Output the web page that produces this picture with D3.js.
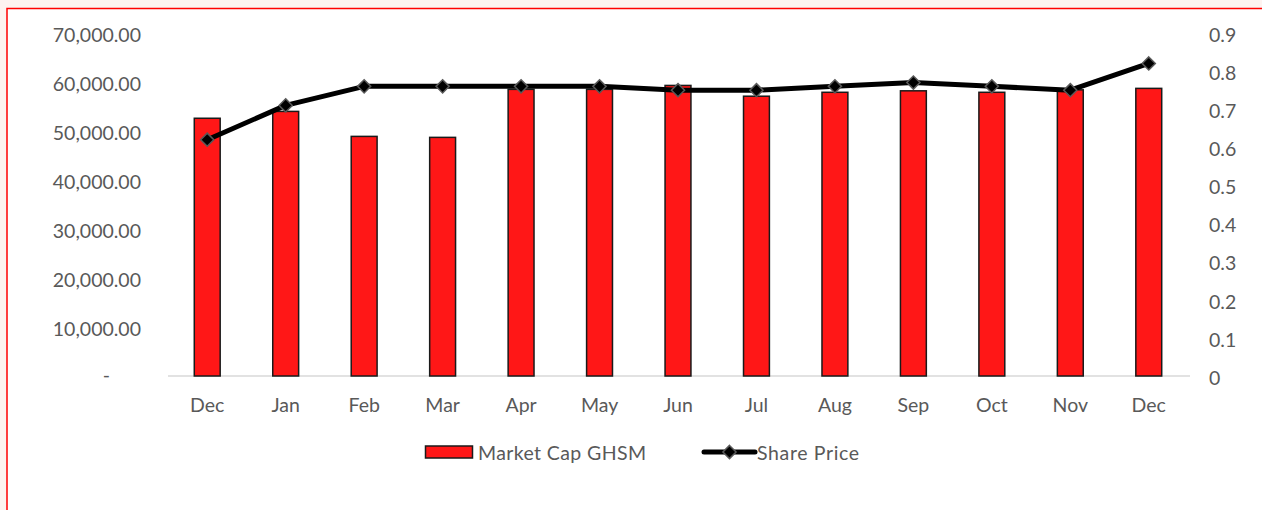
<!DOCTYPE html>
<html>
<head>
<meta charset="utf-8">
<script src="https://cdn.jsdelivr.net/npm/d3@7"></script>
<style>
  html, body { margin: 0; padding: 0; background: #fdf3f0; }
  svg { display: block; }
  text { font-family: Lato, "Open Sans", sans-serif; fill: #595959; }
</style>
</head>
<body>
<svg id="chart" width="1262" height="510"></svg>
<script>
// chart values
const months = ["Dec", "Jan", "Feb", "Mar", "Apr", "May", "Jun", "Jul", "Aug", "Sep", "Oct", "Nov", "Dec"];
const marketCap = [52600, 54000, 48900, 48700, 58500, 58500, 59300, 57100, 57900, 58200, 57900, 58400, 58700];
const sharePrice = [0.62, 0.71, 0.76, 0.76, 0.76, 0.76, 0.75, 0.75, 0.76, 0.77, 0.76, 0.75, 0.82];
const leftTicks = [0, 10000, 20000, 30000, 40000, 50000, 60000, 70000];
const rightTicks = [0, 0.1, 0.2, 0.3, 0.4, 0.5, 0.6, 0.7, 0.8, 0.9];
const seriesNames = ["Market Cap GHSM", "Share Price"];

const svg = d3.select("#chart");
const plot = {left: 168, right: 1188, top: 33, bottom: 376};
const fontSize = 19.5;

// white chart area with red frame
svg.append("rect")
    .attr("x", 7).attr("y", 8.5)
    .attr("width", 1262).attr("height", 510)
    .attr("fill", "#ffffff")
    .attr("stroke", "#ff0000")
    .attr("stroke-width", 1.5);

const x = d3.scaleBand()
    .domain(d3.range(months.length))
    .range([plot.left, plot.right])
    .paddingInner(0.67)
    .paddingOuter(0.335);

const xc = (i) => plot.left + (plot.right - plot.left) / months.length * (i + 0.5);

const yLeft = d3.scaleLinear().domain([0, 70000]).range([plot.bottom, plot.top]);
const yRight = d3.scaleLinear().domain([0, 0.9]).range([plot.bottom, plot.top]);

// left axis
const fmtLeft = (d) => d === 0 ? "-" : d3.format(",.2f")(d);
const leftAxis = svg.append("g")
    .attr("transform", `translate(${plot.left},2)`)
    .call(d3.axisLeft(yLeft).tickValues(leftTicks).tickFormat(fmtLeft).tickSize(0).tickPadding(27));
leftAxis.select(".domain").remove();
leftAxis.selectAll("text")
    .attr("font-size", fontSize)
    .attr("font-family", null)
    .attr("fill", null)
    .attr("dx", (d) => d === 0 ? -31 : 0)
    .attr("dy", (d) => d === 0 ? "0.2em" : "0.32em");

// right axis
const rightAxis = svg.append("g")
    .attr("transform", `translate(${plot.right},2)`)
    .call(d3.axisRight(yRight).tickValues(rightTicks).tickFormat(d3.format("")).tickSize(0).tickPadding(21));
rightAxis.select(".domain").remove();
rightAxis.selectAll("text")
    .attr("font-size", fontSize)
    .attr("font-family", null)
    .attr("fill", null);

// category axis
const bottomAxis = svg.append("g")
    .attr("transform", `translate(0,${plot.bottom})`)
    .call(d3.axisBottom(x).tickFormat((i) => months[i]).tickSize(0).tickPadding(22));
bottomAxis.select(".domain")
    .attr("stroke", "#d9d9d9")
    .attr("stroke-width", 1.5)
    .attr("d", `M${plot.left},0H${plot.right + 2}`);
bottomAxis.selectAll("text")
    .attr("font-size", fontSize)
    .attr("font-family", null)
    .attr("fill", null);

// bars
svg.append("g").selectAll("rect")
    .data(marketCap)
    .join("rect")
    .attr("x", (d, i) => x(i))
    .attr("y", (d) => yLeft(d))
    .attr("width", x.bandwidth())
    .attr("height", (d) => plot.bottom - yLeft(d))
    .attr("fill", "#ff1717")
    .attr("stroke", "#1a1a1a")
    .attr("stroke-width", 1.5);

// share price line
const line = d3.line()
    .x((d, i) => xc(i))
    .y((d) => yRight(d));
svg.append("path")
    .datum(sharePrice)
    .attr("d", line)
    .attr("fill", "none")
    .attr("stroke", "#000000")
    .attr("stroke-width", 5)
    .attr("stroke-linejoin", "round");

const diamond = d3.symbol().type(d3.symbolDiamond2).size(110);
svg.append("g").selectAll("path")
    .data(sharePrice)
    .join("path")
    .attr("d", diamond)
    .attr("transform", (d, i) => `translate(${xc(i)},${yRight(d)})`)
    .attr("fill", "#000000")
    .attr("stroke", "#595959")
    .attr("stroke-width", 1.5);

// legend
const legend = svg.append("g");
legend.append("rect")
    .attr("x", 425.5).attr("y", 446)
    .attr("width", 47).attr("height", 12)
    .attr("fill", "#ff1717")
    .attr("stroke", "#1a1a1a")
    .attr("stroke-width", 1.5);
legend.append("text")
    .attr("x", 478).attr("y", 453)
    .attr("dy", "0.35em")
    .attr("font-size", fontSize)
    .attr("textLength", 168)
    .text(seriesNames[0]);
legend.append("line")
    .attr("x1", 704).attr("x2", 755)
    .attr("y1", 452).attr("y2", 452)
    .attr("stroke", "#000000")
    .attr("stroke-width", 5)
    .attr("stroke-linecap", "round");
legend.append("path")
    .attr("d", diamond)
    .attr("transform", "translate(729.5,452)")
    .attr("fill", "#000000")
    .attr("stroke", "#595959")
    .attr("stroke-width", 1.5);
legend.append("text")
    .attr("x", 757).attr("y", 453)
    .attr("dy", "0.35em")
    .attr("font-size", fontSize)
    .attr("textLength", 102)
    .text(seriesNames[1]);
</script>
</body>
</html>
